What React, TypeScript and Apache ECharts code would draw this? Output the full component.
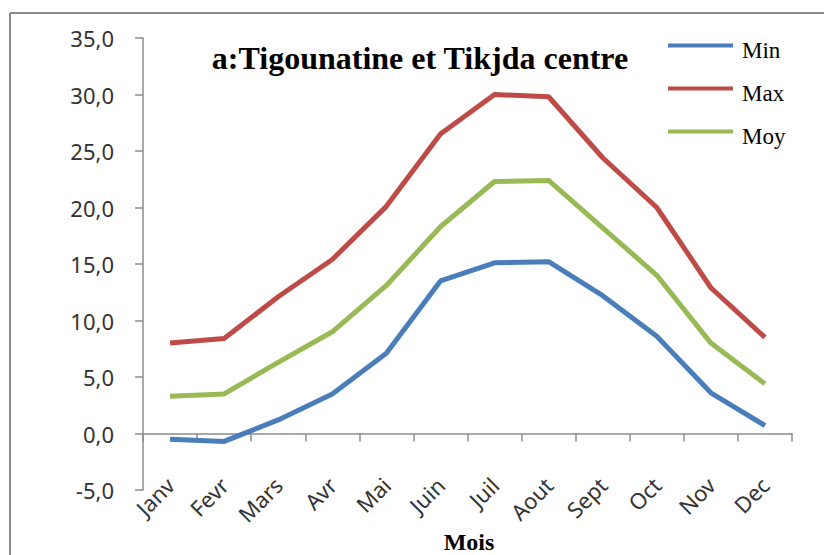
import React, { useEffect, useRef } from "react";
import * as echarts from "echarts";

const months = ["Janv", "Fevr", "Mars", "Avr", "Mai", "Juin", "Juil", "Aout", "Sept", "Oct", "Nov", "Dec"];
const minValues = [-0.5, -0.7, 1.2, 3.5, 7.1, 13.5, 15.1, 15.2, 12.2, 8.6, 3.6, 0.7];
const maxValues = [8.0, 8.4, 12.1, 15.4, 20.1, 26.5, 30.0, 29.8, 24.4, 20.0, 12.9, 8.5];
const moyValues = [3.3, 3.5, 6.3, 9.0, 13.1, 18.3, 22.3, 22.4, 18.2, 14.0, 8.0, 4.4];
const seriesNames = ["Min", "Max", "Moy"];
const titleText = "a:Tigounatine et Tikjda centre";
const xAxisTitle = "Mois";

export default function App() {
  const ref = useRef<HTMLDivElement>(null);
  useEffect(() => {
    if (!ref.current) return;
    const chart = echarts.init(ref.current, null, { renderer: "svg" });
    const axisGray = "#8c8c8c";
    const labelFont = "'Noto Sans', sans-serif";
    chart.setOption({
      animation: false,
      backgroundColor: "#ffffff",
      grid: { left: 143, right: 32, top: 38, bottom: 65, containLabel: false },
      legend: {
        orient: "vertical",
        left: 663,
        top: 34,
        itemWidth: 65,
        itemHeight: 14,
        itemGap: 20,
        icon: "path://M0,0H65V4H0Z M0,14L0.01,14",
        data: seriesNames,
        textStyle: {
          fontFamily: "'Liberation Serif', serif",
          fontSize: 23,
          lineHeight: 23,
          color: "#000",
          padding: [0, 0, 0, 4],
        },
      },
      xAxis: [
        {
          type: "category",
          data: months,
          boundaryGap: true,
          axisLine: { onZero: true, lineStyle: { color: axisGray, width: 1.5 } },
          axisTick: { show: true, length: 8, lineStyle: { color: axisGray, width: 1.5 } },
          axisLabel: { show: false },
        },
        {
          type: "category",
          data: months,
          position: "bottom",
          boundaryGap: true,
          axisLine: { show: false, onZero: false },
          axisTick: { show: false },
          axisLabel: {
            rotate: 45,
            margin: -9,
            fontFamily: labelFont,
            fontSize: 22,
            color: "#333",
          },
        },
      ],
      yAxis: {
        type: "value",
        min: -5,
        max: 35,
        interval: 5,
        splitLine: { show: false },
        axisLine: { show: true, lineStyle: { color: axisGray, width: 1.5 } },
        axisTick: { show: true, length: 8, lineStyle: { color: axisGray, width: 1.5 } },
        axisLabel: {
          margin: 29,
          fontFamily: labelFont,
          fontSize: 22,
          color: "#333",
          formatter: (v: number) => v.toFixed(1).replace(".", ","),
        },
      },
      series: [
        { name: seriesNames[0], data: minValues, color: "#4a7ebb" },
        { name: seriesNames[1], data: maxValues, color: "#be4b48" },
        { name: seriesNames[2], data: moyValues, color: "#98b954" },
      ].map((s) => ({
        type: "line",
        name: s.name,
        data: s.data,
        xAxisIndex: 0,
        symbol: "none",
        itemStyle: { color: s.color },
        lineStyle: { color: s.color, width: 5 },
      })),
      graphic: [
        {
          type: "line",
          shape: { x1: 10, y1: 13, x2: 824, y2: 13 },
          style: { stroke: "#8c8c8c", lineWidth: 2 },
        },
        {
          type: "line",
          shape: { x1: 10, y1: 13, x2: 10, y2: 555 },
          style: { stroke: "#8c8c8c", lineWidth: 2 },
        },
        {
          type: "text",
          x: 420,
          y: 58,
          style: {
            text: titleText,
            fontFamily: "'Liberation Serif', serif",
            fontWeight: "bold",
            fontSize: 32,
            fill: "#000",
            align: "center",
            verticalAlign: "middle",
          },
        },
        {
          type: "text",
          x: 469,
          y: 542,
          style: {
            text: xAxisTitle,
            fontFamily: "'Liberation Serif', serif",
            fontWeight: "bold",
            fontSize: 24,
            fill: "#000",
            align: "center",
            verticalAlign: "middle",
          },
        },
      ],
    });
    return () => chart.dispose();
  }, []);
  return <div ref={ref} style={{ width: 824, height: 555, position: "fixed", left: 0, top: 0 }} />;
}
